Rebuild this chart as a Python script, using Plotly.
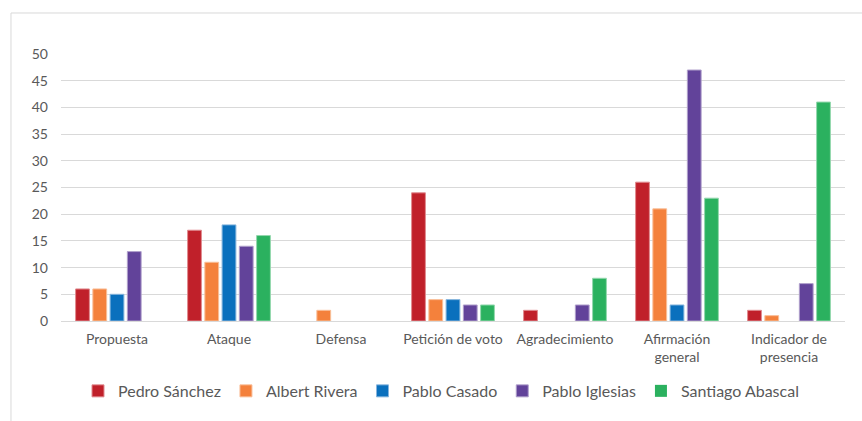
import plotly.graph_objects as go

categories = [
    "Propuesta",
    "Ataque",
    "Defensa",
    "Petición de voto",
    "Agradecimiento",
    "Afirmación<br>general",
    "Indicador de<br>presencia",
]

pedro_sanchez = [6, 17, 0, 24, 2, 26, 2]
albert_rivera = [6, 11, 2, 4, 0, 21, 1]
pablo_casado = [5, 18, 0, 4, 0, 3, 0]
pablo_iglesias = [13, 14, 0, 3, 3, 47, 7]
santiago_abascal = [0, 16, 0, 3, 8, 23, 41]

series = [
    ("Pedro Sánchez", pedro_sanchez, "#C0202A", "#E08A8F"),
    ("Albert Rivera", albert_rivera, "#F4813C", "#F9BE98"),
    ("Pablo Casado", pablo_casado, "#0A70BD", "#86B5DD"),
    ("Pablo Iglesias", pablo_iglesias, "#62439A", "#B0A0CC"),
    ("Santiago Abascal", santiago_abascal, "#2BB15F", "#94D8AE"),
]

y_ticks = list(range(0, 51, 5))

FONT = "Lato, 'Open Sans', sans-serif"
GRAY = "#595959"

fig = go.Figure()
for name, values, fill, edge in series:
    fig.add_trace(
        go.Bar(
            name=name,
            x=categories,
            y=values,
            marker=dict(
                color=fill,
                # no outline on empty bars so nothing shows at zero
                line=dict(color=edge, width=[0 if v == 0 else 1 for v in values]),
            ),
        )
    )

fig.update_layout(
    width=862,
    height=421,
    margin=dict(l=61, r=17, t=54, b=100),
    paper_bgcolor="white",
    plot_bgcolor="white",
    barmode="group",
    bargap=0.23,
    bargroupgap=0.2,
    font=dict(family=FONT, color=GRAY, size=14),
    showlegend=True,
    legend=dict(
        orientation="h",
        x=0.4847,
        xanchor="center",
        y=-0.262,
        yanchor="middle",
        font=dict(family=FONT, size=16, color=GRAY),
        itemwidth=30,
        traceorder="normal",
    ),
    xaxis=dict(
        showgrid=False,
        showline=False,
        ticks="",
        tickfont=dict(family=FONT, size=14, color=GRAY),
        ticklabelstandoff=8,
    ),
    yaxis=dict(
        range=[0, 50],
        tickvals=y_ticks,
        showgrid=True,
        gridcolor="#D9D9D9",
        gridwidth=1.3,
        zeroline=True,
        zerolinecolor="#D9D9D9",
        zerolinewidth=1.3,
        showline=False,
        ticks="",
        tickfont=dict(family=FONT, size=14, color=GRAY),
        ticklabelstandoff=12,
    ),
    shapes=[
        dict(
            type="rect",
            xref="paper",
            yref="paper",
            x0=-0.0638,
            x1=1.03,
            y0=-0.5,
            y1=1.1536,
            line=dict(color="#D9D9D9", width=1),
            fillcolor="rgba(0,0,0,0)",
            layer="below",
        )
    ],
)

fig.write_html("out.html")
